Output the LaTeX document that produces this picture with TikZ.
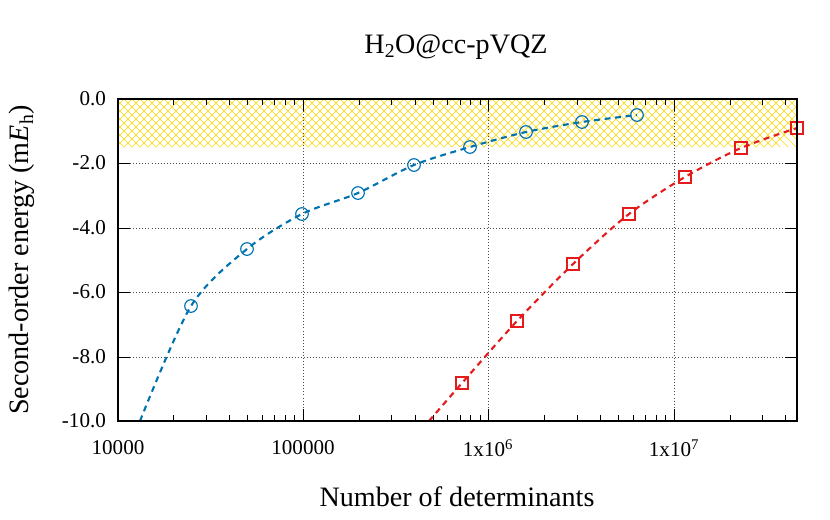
\documentclass[tikz,border=0pt]{standalone}
\usepackage{fontspec}
\setmainfont{Liberation Serif}
\usepackage{tikz}
\usetikzlibrary{arrows.meta,positioning}
\definecolor{bluecurve}{RGB}{0,114,178}
\definecolor{redcurve}{RGB}{228,26,28}
\definecolor{hatchyellow}{RGB}{255,215,0}
\tikzset{
	x=0.03cm, y=-0.03cm,
	lbl/.style={font=\fontsize{18}{21}\selectfont},
	biglbl/.style={font=\fontsize{24}{28}\selectfont},
	grid line/.style={black!70, line width=0.6pt, dotted},
	curve/.style={line width=1.8pt, dash pattern=on 5pt off 4pt},
	circmark/.style={line width=1pt},
}
\begin{document}
\begin{tikzpicture}
	\useasboundingbox (0,0) rectangle (830,519);
	% hatched band
	\begin{scope}
		\clip (118,99) rectangle (797,147);
		\foreach \i in {0,8,...,760}
			{\draw[hatchyellow, line width=0.5pt] (\i+60,99) -- ++(-48,48);
			 \draw[hatchyellow, line width=0.5pt] (\i+60,99) -- ++(48,48);}
	\end{scope}
	% grid
	\foreach \yy in {163,228,292,357}
		\draw[grid line] (118,\yy) -- (797,\yy);
	\foreach \xx in {303,488,674}
		\draw[grid line] (\xx,99) -- (\xx,421);
	% ticks
	\foreach \d in {4,5,6,7}{
		\foreach \k in {2,...,9}{
			\pgfmathsetmacro{\xx}{118+185.4*(\d-4+log10(\k))}
			\ifdim\xx pt<797pt
				\draw[line width=0.8pt] (\xx,421) -- ++(0,-6) (\xx,99) -- ++(0,6);
			\fi}}
	\foreach \xx in {118,303,488,674}
		\draw[line width=0.8pt] (\xx,421) -- ++(0,-12) (\xx,99) -- ++(0,12);
	\foreach \yy in {99,163,228,292,357,421}
		\draw[line width=0.8pt] (118,\yy) -- ++(12,0) (797,\yy) -- ++(-12,0);
	% curves
	\draw[curve, bluecurve] plot[smooth, tension=0.5] coordinates {(140,421) (191,306) (247,249) (302,214) (358,193) (414,165) (470,147) (526,132) (582,122) (637,115)};
	\foreach \px/\py in {191/306,247/249,302/214,358/193,414/165,470/147,526/132,582/122,637/115}
		\draw[circmark, bluecurve] (\px,\py) circle[radius=6.3];
	\begin{scope}
		\clip (118,99) rectangle (797,421);
		\draw[curve, redcurve] plot[smooth, tension=0.5] coordinates {(429,421) (462,383) (517,321) (573,264) (629,214) (685,177) (741,148) (797,128)};
		\foreach \px/\py in {462/383,517/321,573/264,629/214,685/177,741/148}
			\draw[circmark, redcurve] (\px-6,\py-6) rectangle (\px+6,\py+6);
	\end{scope}
	\draw[circmark, redcurve] (791,122) rectangle (803,134);
	% frame
	\draw[line width=1.2pt] (118,99) rectangle (797,421);
	% labels
	\foreach \yy/\t in {99/0.0,163/-2.0,228/-4.0,292/-6.0,357/-8.0,421/-10.0}
		\node[lbl, anchor=east] at (110,\yy) {\t};
	\node[lbl] (l4) at (118,448) {10000};
	\node[lbl] (l5) at (303,448) {100000};
	\node[lbl] (l6) at (488,448) {1x10\textsuperscript{6}};
	\node[lbl] (l7) at (674,448) {1x10\textsuperscript{7}};
	\node[biglbl] (title) at (456,47) {H\textsubscript{2}O@cc-pVQZ};
	\node[biglbl] (xlab) at (457,497) {Number of determinants};
	\node[biglbl, rotate=90] (ylab) at (22,260) {Second-order energy (m\textit{E}\textsubscript{h})};
\end{tikzpicture}
\end{document}
